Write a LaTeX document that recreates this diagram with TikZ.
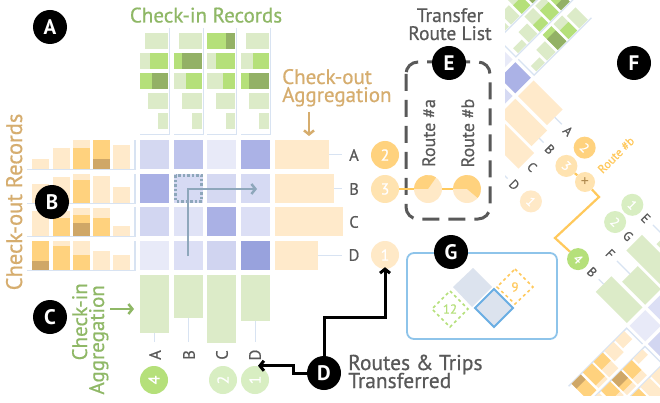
\documentclass[tikz,border=0pt]{standalone}
\usepackage{fontspec}
\setmainfont{PT Sans}
\newfontfamily\medfont{PT Sans}[FakeBold=0.6]
\usetikzlibrary{arrows.meta}
\definecolor{oL}{HTML}{FFEACB}
\definecolor{oM}{HTML}{FFD27E}
\definecolor{oD}{HTML}{CFA767}
\definecolor{oC3}{HTML}{FFE3B0}
\definecolor{oC1}{HTML}{FFE9C7}
\definecolor{oLine}{HTML}{FFC95C}
\definecolor{gL}{HTML}{DCEBC8}
\definecolor{gM}{HTML}{B5E07A}
\definecolor{gD}{HTML}{93B166}
\definecolor{gC}{HTML}{D8EEC2}
\definecolor{axb}{HTML}{D8E3F2}
\definecolor{txg}{HTML}{595959}
\definecolor{ttlg}{HTML}{8FB866}
\definecolor{ttlo}{HTML}{D6AD6E}
\definecolor{garr}{HTML}{8EA7BB}
\definecolor{gbox}{HTML}{8EC4EA}
\definecolor{dia}{HTML}{DCE3EE}
\definecolor{diab}{HTML}{6AAEE3}
\definecolor{plusc}{HTML}{B08A4E}
\definecolor{cAa}{HTML}{D4D8F1}\definecolor{cAb}{HTML}{BEC4EC}\definecolor{cAc}{HTML}{E8EAF8}\definecolor{cAd}{HTML}{ABB2E6}
\definecolor{cBa}{HTML}{A9B0E5}\definecolor{cBb}{HTML}{D6DAF3}\definecolor{cBc}{HTML}{D5D9F2}\definecolor{cBd}{HTML}{D6DAF3}
\definecolor{cCa}{HTML}{D2D6F1}\definecolor{cCb}{HTML}{E0E3F6}\definecolor{cCc}{HTML}{AAB1E5}\definecolor{cCd}{HTML}{DCDFF5}
\definecolor{cDa}{HTML}{E8EAF8}\definecolor{cDb}{HTML}{DCDFF5}\definecolor{cDc}{HTML}{D0D4F0}\definecolor{cDd}{HTML}{98A2DD}
% check-out record bar: x, base, light top, medium top, dark top
\newcommand\ob[5]{%
 \ifnum#3<#2 \fill[oL](#1,#3) rectangle (#1+17,#2);\fi
 \ifnum#4<#2 \fill[oM](#1,#4) rectangle (#1+17,#2);\fi
 \ifnum#5<#2 \fill[oD](#1,#5) rectangle (#1+17,#2);\fi}
% check-in record bar: y, right, light left, medium left, dark left
\newcommand\ib[5]{%
 \ifnum#3<#2 \fill[gL](#3,#1) rectangle (#2,#1+16);\fi
 \ifnum#4<#2 \fill[gM](#4,#1) rectangle (#2,#1+16);\fi
 \ifnum#5<#2 \fill[gD](#5,#1) rectangle (#2,#1+16);\fi}
\newcommand\matbody{%
 % check-in records
 \foreach \cx in {140,174,207,241}{\draw[axl] (\cx,134.5) -- (\cx+29.5,134.5) -- (\cx+29.5,28);}
 \ib{33}{168}{145}{168}{168}\ib{53}{168}{140}{150}{168}\ib{73}{168}{140}{140}{152}\ib{93}{168}{148}{168}{168}\ib{113}{168}{158}{168}{168}
 \ib{33}{202}{179}{202}{202}\ib{53}{202}{174}{174}{182}\ib{73}{202}{174}{186}{202}\ib{93}{202}{182}{202}{202}\ib{113}{202}{192}{202}{202}
 \ib{33}{235}{207}{207}{226}\ib{53}{235}{207}{216}{235}\ib{73}{235}{207}{223}{235}\ib{93}{235}{216}{235}{235}\ib{113}{235}{226}{235}{235}
 \ib{33}{269}{246}{269}{269}\ib{53}{269}{241}{253}{269}\ib{73}{269}{241}{241}{249}\ib{93}{269}{249}{269}{269}\ib{113}{269}{259}{269}{269}
 % check-out records
 \foreach \ry/\rb in {140/169,174/203,207/236,241/270}{\draw[axl] (27,\rb+0.5) -- (135,\rb+0.5) -- (135,\ry);}
 \ob{32}{169}{159}{169}{169}\ob{53}{169}{148}{169}{169}\ob{73}{169}{140}{148}{169}\ob{93}{169}{140}{140}{159}\ob{113}{169}{145}{169}{169}
 \ob{32}{203}{184}{203}{203}\ob{53}{203}{177}{203}{203}\ob{73}{203}{174}{180}{203}\ob{93}{203}{176}{203}{203}\ob{113}{203}{187}{203}{203}
 \ob{32}{236}{211}{236}{236}\ob{53}{236}{211}{218}{236}\ob{73}{236}{208}{215}{223}\ob{93}{236}{208}{218}{236}\ob{113}{236}{226}{236}{236}
 \ob{32}{270}{241}{241}{261}\ob{53}{270}{241}{246}{270}\ob{73}{270}{241}{255}{270}\ob{93}{270}{251}{270}{270}\ob{113}{270}{255}{270}{270}
 % matrix cells
 \fill[cAa](140,140) rectangle ++(29,29);\fill[cAb](174,140) rectangle ++(29,29);\fill[cAc](207,140) rectangle ++(29,29);\fill[cAd](241,140) rectangle ++(29,29);
 \fill[cBa](140,174) rectangle ++(29,29);\fill[cBb](174,174) rectangle ++(29,29);\fill[cBc](207,174) rectangle ++(29,29);\fill[cBd](241,174) rectangle ++(29,29);
 \fill[cCa](140,207) rectangle ++(29,29);\fill[cCb](174,207) rectangle ++(29,29);\fill[cCc](207,207) rectangle ++(29,29);\fill[cCd](241,207) rectangle ++(29,29);
 \fill[cDa](140,241) rectangle ++(29,29);\fill[cDb](174,241) rectangle ++(29,29);\fill[cDc](207,241) rectangle ++(29,29);\fill[cDd](241,241) rectangle ++(29,29);
 % check-out aggregation
 \fill[oL](275,140) rectangle (329,169);\draw[axl](329,154.5) -- (342,154.5);
 \fill[oL](275,174) rectangle (334,203);\draw[axl](334,188.5) -- (342,188.5);
 \fill[oL](275,207) rectangle (343,236);
 \fill[oL](275,241) rectangle (318,270);\draw[axl](318,255.5) -- (342,255.5);
 % check-in aggregation
 \fill[gL](140,275) rectangle (169,333);\draw[axl](154.5,333) -- (154.5,342);
 \fill[gL](174,275) rectangle (203,318);\draw[axl](188.5,318) -- (188.5,342);
 \fill[gL](207,275) rectangle (236,343);
 \fill[gL](241,275) rectangle (270,321);\draw[axl](255.5,321) -- (255.5,342);
}
\begin{document}
\begin{tikzpicture}[x=1pt,y=-1pt,
 axl/.style={draw=axb,line width=1.3pt},
 badge/.style={circle,fill=black,minimum size=34pt,inner sep=0pt,text=white,font=\bfseries\fontsize{21}{21}\selectfont},
 ttl/.style={inner sep=0pt,font=\medfont\fontsize{21}{21}\selectfont},
 lbl/.style={inner sep=0pt,text=txg,font=\medfont\fontsize{16.5}{16.5}\selectfont},
 num/.style={circle,inner sep=0pt,minimum size=28pt,text=white,font=\medfont\fontsize{16}{16}\selectfont},
 fnum/.style={circle,inner sep=0pt,minimum size=22pt,text=white,font=\medfont\fontsize{13}{13}\selectfont},
 flbl/.style={inner sep=0pt,text=txg,font=\medfont\fontsize{13}{13}\selectfont},
 blk/.style={draw=black,line width=3pt,-{Straight Barb[length=4pt,width=10pt]}},
 pie/.style={circle,fill=oC1,minimum size=28pt,inner sep=0pt},
 route/.style={draw=oLine,line width=2.2pt}]
\useasboundingbox (0,0) rectangle (660,403);
\fill[white] (0,0) rectangle (660,403);
\matbody
% dotted selection and grey arrow
\draw[garr,line width=2.5pt,dotted] (175.5,175.5) rectangle (201.5,201.5);
\coordinate (ga0) at (188,256);\coordinate (ga1) at (188,189);\coordinate (ga2) at (257,189);
\draw[garr,line width=2.5pt,-{Straight Barb[length=4pt,width=10pt]}] (ga0) -- (ga1) -- (ga2);
% titles
\node[ttl,text=ttlg,anchor=base] (t1) at (206,22.5) {Check-in Records};
\node[ttl,text=ttlo,anchor=base west] (t2) at (282,84) {Check-out};
\node[ttl,text=ttlo,anchor=base west] (t3) at (282,102) {Aggregation};
\coordinate (ta0) at (309,112);\coordinate (ta1) at (309,136);
\draw[ttlo,line width=2.5pt,-{Straight Barb[length=4pt,width=10pt]}] (ta0) -- (ta1);
\node[ttl,text=ttlo,rotate=90,anchor=base,font=\medfont\fontsize{22.5}{22.5}\selectfont] (t4) at (22,202) {Check-out Records};
\node[ttl,text=ttlg,rotate=90,anchor=base east] (t5) at (87,283) {Check-in};
\node[ttl,text=ttlg,rotate=90,anchor=base east] (t6) at (104,285) {Aggregation};
\coordinate (ca0) at (110,309);\coordinate (ca1) at (134,309);
\draw[ttlg,line width=2.5pt,-{Straight Barb[length=4pt,width=10pt]}] (ca0) -- (ca1);
\node[ttl,text=txg,anchor=base,font=\medfont\fontsize{19.5}{19.5}\selectfont] (t7) at (450,22) {Transfer};
\node[ttl,text=txg,anchor=base,font=\medfont\fontsize{19.5}{19.5}\selectfont] (t8) at (450,40) {Route List};
\node[ttl,text=txg,anchor=base west,font=\medfont\fontsize{21.5}{21.5}\selectfont] (t9) at (348,370) {Routes \& Trips};
\node[ttl,text=txg,anchor=base west,font=\medfont\fontsize{21.5}{21.5}\selectfont] (t10) at (348,388) {Transferred};
% right labels and circles
\node[lbl] (ra) at (354,155) {A};
\node[lbl] (rb) at (354,189) {B};
\node[lbl] (rc) at (354,222) {C};
\node[lbl] (rd) at (354,255) {D};
\node[num,fill=oM] (co2) at (385,155) {2};
\node[num,fill=oC3] (co3) at (385,189) {3};
\node[num,fill=oC1] (co1) at (385,255) {1};
% bottom labels and circles
\node[lbl,rotate=90] (ba) at (155,355) {A};
\node[lbl,rotate=90] (bb) at (189,355) {B};
\node[lbl,rotate=90] (bc) at (222,355) {C};
\node[lbl,rotate=90] (bd) at (255,355) {D};
\node[num,fill=gM,rotate=90] (ci4) at (154,380) {4};
\node[num,fill=gC,rotate=90] (ci2) at (223,380) {2};
\node[num,fill=gC,rotate=90] (ci1) at (255,380) {1};
% transfer route list
\draw[txg,line width=3pt,dash pattern=on 17pt off 9pt,rounded corners=12pt] (406,62) rectangle (490,219);
\node[lbl,font=\medfont\fontsize{18}{18}\selectfont,rotate=90,anchor=base] (rta) at (435,133) {Route \#a};
\node[lbl,font=\medfont\fontsize{18}{18}\selectfont,rotate=90,anchor=base] (rtb) at (474,133) {Route \#b};
\coordinate (pac) at (428,189);\coordinate (pbc) at (467,189);
\draw[route] (co3) -- (pac) -- (pbc);
\node[pie] (pa) at (pac) {};
\node[pie] (pb) at (pbc) {};
\begin{scope}[shift={(pac)},yscale=-1]
\fill[oM] (0,0) -- (55:14) arc[start angle=55,end angle=180,radius=14] -- cycle;
\end{scope}
\begin{scope}[shift={(pbc)},yscale=-1]
\fill[oM] (0,0) -- (-40:14) arc[start angle=-40,end angle=180,radius=14] -- cycle;
\end{scope}
% G box
\draw[gbox,line width=1.8pt,rounded corners=7pt] (407,253) rectangle (557,339);
\fill[dia] (473,268) -- (492,287) -- (472,307) -- (453,287) -- cycle;
\filldraw[fill=dia,draw=diab,line width=1.8pt] (494,289) -- (513,308) -- (494,327) -- (475,308) -- cycle;
\draw[gM,line width=1.5pt,dashed] (450,291) -- (468,309) -- (450,327) -- (432,309) -- cycle;
\draw[oLine,line width=1.5pt,dashed] (515,269) -- (533,287) -- (515,304) -- (497,287) -- cycle;
\node[inner sep=0pt,text=gM,font=\medfont\fontsize{13}{13}\selectfont] (n12) at (450,309) {12};
\node[inner sep=0pt,text=oLine,font=\medfont\fontsize{13}{13}\selectfont] (n9) at (515,287) {9};
% F region
\begin{scope}
\clip (505,0) rectangle (660,395);
\begin{scope}[shift={(568,131)},rotate=-45,scale=0.76,shift={(-354,-155)}]
\matbody
\end{scope}
\begin{scope}[shift={(592,272)},rotate=-135,scale=0.76,xscale=-1,shift={(-155,-355)}]
\matbody
\end{scope}
\end{scope}
\begin{scope}[shift={(568,131)},rotate=-45,scale=0.76,shift={(-354,-155)}]
\node[flbl,rotate=-45] (f1a) at (354,155) {A};
\node[flbl,rotate=-45] (f1b) at (354,189) {B};
\node[flbl,rotate=-45] (f1c) at (354,222) {C};
\node[flbl,rotate=-45] (f1d) at (354,255) {D};
\node[fnum,fill=oM,rotate=-45] (f1c2) at (385,155) {2};
\node[fnum,fill=oC3,rotate=-45] (f1c3) at (385,189) {3};
\node[fnum,fill=oC1,rotate=-45] (f1c1) at (385,255) {1};
\end{scope}
\begin{scope}[shift={(592,272)},rotate=-135,scale=0.76,xscale=-1,shift={(-155,-355)}]
\node[flbl,rotate=-45] (f2b) at (155,355) {B};
\node[flbl,rotate=-45] (f2f) at (189,355) {F};
\node[flbl,rotate=-45] (f2g) at (222,355) {G};
\node[flbl,rotate=-45] (f2e) at (255,355) {E};
\node[fnum,fill=gM,rotate=-45] (f2c4) at (154,380) {4};
\node[fnum,fill=gC,rotate=-45] (f2c2) at (223,380) {2};
\node[fnum,fill=gC,rotate=-45] (f2c1) at (255,380) {1};
\end{scope}
\node[circle,fill=oC3,minimum size=20pt,inner sep=0pt,text=plusc,font=\fontsize{16}{16}\selectfont] (fplus) at (585,182) {+};
\coordinate (rb1) at (599,197);\coordinate (rb2) at (555,238);
\draw[route] (f1c3) -- (fplus);
\draw[route] (fplus) -- (rb1) -- (rb2) -- (f2c4);
\node[inner sep=0pt,text=oLine,rotate=45,font=\medfont\fontsize{12}{12}\selectfont] (frb) at (616,155) {Route \#b};
% badges
\node[badge] (A) at (50,27) {A};
\node[badge] (B) at (52,202) {B};
\node[badge] (C) at (50,317) {C};
\node[badge] (D) at (324,373) {D};
\node[badge] (E) at (449,63) {E};
\node[badge] (F) at (634,63) {F};
\node[badge] (G) at (451,252) {G};
\coordinate (dbend) at (0,317);\coordinate (dleft) at (293,373);
\draw[blk] (D.north) -- (D.north |- dbend) -| ([yshift=2pt]co1.south);
\draw[blk] (D.west) -- (dleft) |- ([xshift=3pt]ci1.east);
\end{tikzpicture}
\end{document}
